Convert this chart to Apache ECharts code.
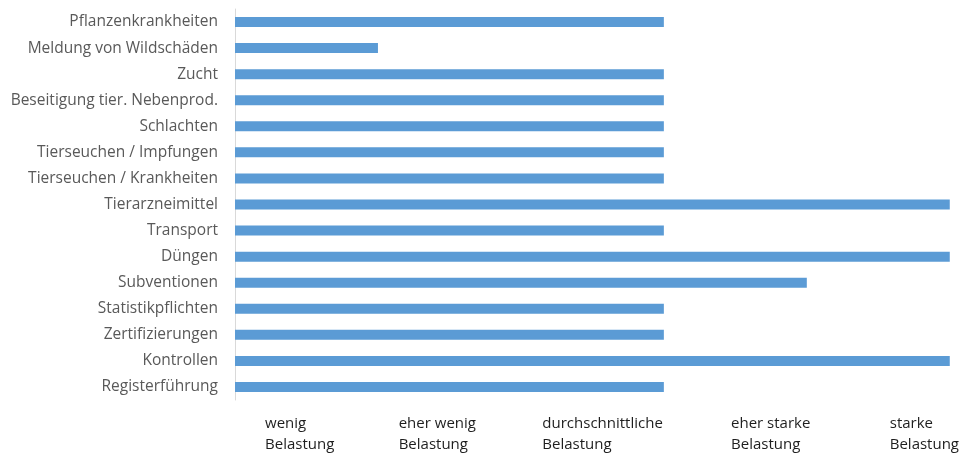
<!DOCTYPE html>
<html>
<head>
<meta charset="utf-8">
<script src="https://cdn.jsdelivr.net/npm/echarts@6/dist/echarts.min.js"></script>
<style>
html,body{margin:0;padding:0;background:#fff;}
#c{width:962px;height:457px;}
</style>
</head>
<body>
<div id="c"></div>
<script>
var categories = [
  "Pflanzenkrankheiten",
  "Meldung von Wildschäden",
  "Zucht",
  "Beseitigung tier. Nebenprod.",
  "Schlachten",
  "Tierseuchen / Impfungen",
  "Tierseuchen / Krankheiten",
  "Tierarzneimittel",
  "Transport",
  "Düngen",
  "Subventionen",
  "Statistikpflichten",
  "Zertifizierungen",
  "Kontrollen",
  "Registerführung"
];
var values = [3, 1, 3, 3, 3, 3, 3, 5, 3, 5, 4, 3, 3, 5, 3];
var scaleLabels = [
  "wenig\nBelastung",
  "eher wenig\nBelastung",
  "durchschnittliche\nBelastung",
  "eher starke\nBelastung",
  "starke\nBelastung"
];
// where each scale label's left edge sits along the value axis (layout only)
var scaleLabelAnchors = [0.21, 1.145, 2.15, 3.47, 4.58];

var chart = echarts.init(document.getElementById('c'));
chart.setOption({
  animation: false,
  backgroundColor: '#ffffff',
  grid: { left: 235, right: 10, top: 9, bottom: 57, containLabel: false },
  xAxis: {
    type: 'value',
    min: 0,
    max: 5,
    interval: 1,
    axisLine: { show: false },
    axisTick: { show: false },
    splitLine: { show: false },
    axisLabel: {
      customValues: scaleLabelAnchors,
      align: 'left',
      verticalAlign: 'top',
      margin: 13,
      fontFamily: 'Open Sans',
      fontSize: 15,
      lineHeight: 21,
      color: '#1e1e1e',
      formatter: function (v) {
        var best = 0, d = Infinity;
        for (var i = 0; i < scaleLabelAnchors.length; i++) {
          var dd = Math.abs(scaleLabelAnchors[i] - v);
          if (dd < d) { d = dd; best = i; }
        }
        return scaleLabels[best];
      }
    }
  },
  yAxis: {
    type: 'category',
    data: categories,
    inverse: true,
    axisLine: { show: true, lineStyle: { color: '#d9d9d9', width: 1 } },
    axisTick: { show: false },
    splitLine: { show: false },
    axisLabel: {
      margin: 17,
      fontFamily: 'Open Sans',
      fontSize: 15.5,
      color: '#595959'
    }
  },
  series: [{
    type: 'bar',
    data: values,
    barWidth: 10,
    itemStyle: { color: '#5b9bd5' }
  }]
});
</script>
</body>
</html>
